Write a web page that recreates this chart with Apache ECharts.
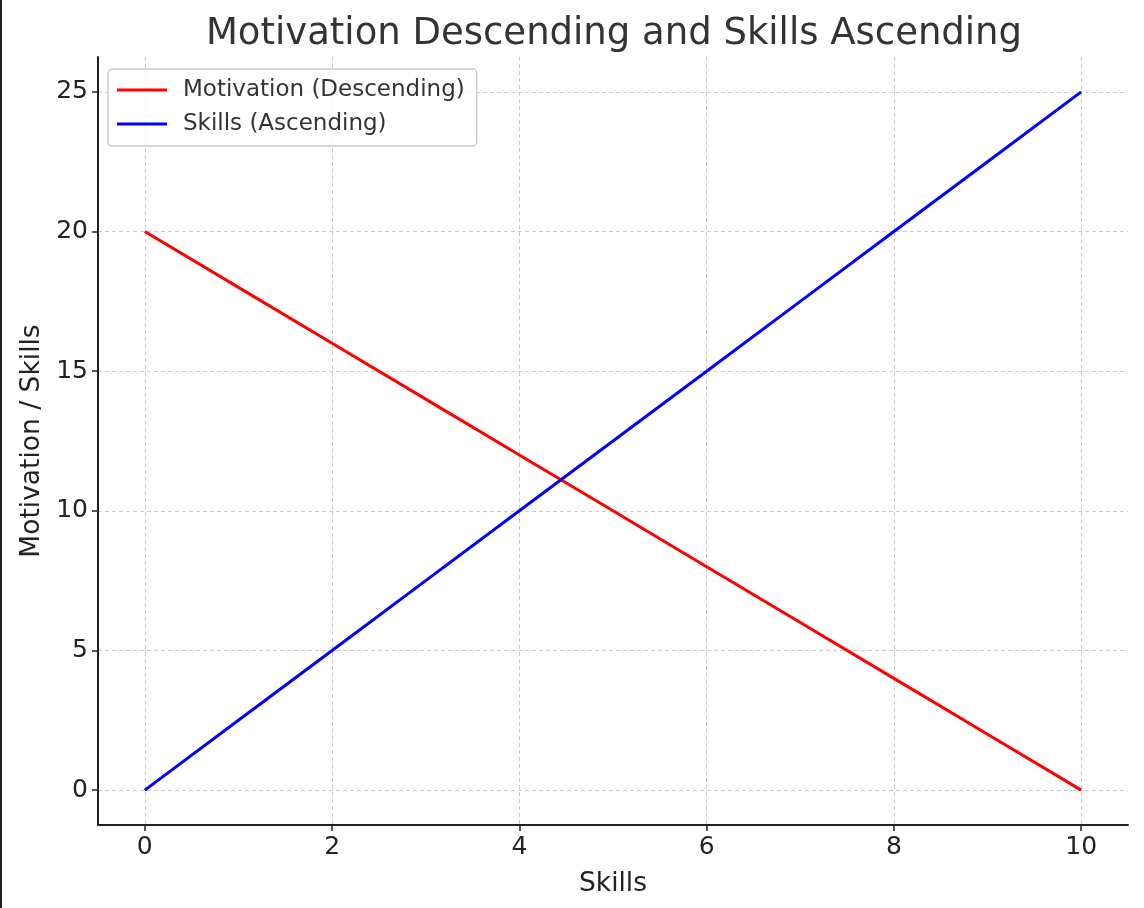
<!DOCTYPE html>
<html>
<head>
<meta charset="utf-8">
<script src="https://cdn.jsdelivr.net/npm/echarts@6/dist/echarts.min.js"></script>
<style>html,body{margin:0;padding:0;background:#fff;}#c{width:1144px;height:908px;}</style>
</head>
<body>
<div id="c"></div>
<script>
const xValues = [0, 1, 2, 3, 4, 5, 6, 7, 8, 9, 10];
const motivation = [20, 18, 16, 14, 12, 10, 8, 6, 4, 2, 0];
const skills = [0, 2.5, 5, 7.5, 10, 12.5, 15, 17.5, 20, 22.5, 25];
const xTicks = [0, 2, 4, 6, 8, 10];
const yTicks = [0, 5, 10, 15, 20, 25];

const FONT = 'DejaVu Sans';
const chart = echarts.init(document.getElementById('c'), null, {renderer: 'canvas'});
chart.setOption({
  animation: false,
  backgroundColor: '#fff',
  title: {
    text: 'Motivation Descending and Skills Ascending',
    left: 609, top: 11, textAlign: 'center',
    textStyle: {fontFamily: FONT, fontSize: 37, fontWeight: 'normal', color: '#333'}
  },
  legend: {
    orient: 'vertical', left: 108, top: 69,
    padding: [9, 12, 10, 9],
    itemGap: 10, itemWidth: 50, itemHeight: 3,
    icon: 'rect',
    borderColor: '#ccc', borderWidth: 1.5, borderRadius: 4,
    backgroundColor: 'rgba(255,255,255,0.8)',
    textStyle: {fontFamily: FONT, fontSize: 23, color: '#333', lineHeight: 24, padding: [0, 0, 0, 11]},
    data: ['Motivation (Descending)', 'Skills (Ascending)']
  },
  grid: {left: 98, right: 16, top: 57, bottom: 83, containLabel: false},
  xAxis: {
    type: 'value', min: -0.5, max: 10.5,
    name: 'Skills', nameLocation: 'middle', nameGap: 46,
    nameTextStyle: {fontFamily: FONT, fontSize: 26.5, color: '#222'},
    axisLine: {show: true, onZero: false, lineStyle: {color: '#222', width: 2}},
    axisTick: {show: true, length: 6, customValues: xTicks, lineStyle: {color: '#222', width: 1.5}},
    axisLabel: {customValues: xTicks, margin: 10, fontFamily: FONT, fontSize: 25, color: '#222'},
    splitLine: {show: true, lineStyle: {color: '#ccc', width: 1, type: [4, 3]}}
  },
  yAxis: {
    type: 'value', min: -1.25, max: 26.25,
    name: 'Motivation / Skills', nameLocation: 'middle', nameGap: 48,
    nameTextStyle: {fontFamily: FONT, fontSize: 26.5, color: '#222'},
    axisLine: {show: true, onZero: false, lineStyle: {color: '#222', width: 2}},
    axisTick: {show: true, length: 6, customValues: yTicks, lineStyle: {color: '#222', width: 1.5}},
    axisLabel: {customValues: yTicks, margin: 10, fontFamily: FONT, fontSize: 25, color: '#222'},
    splitLine: {show: true, lineStyle: {color: '#ccc', width: 1, type: [4, 3]}}
  },
  graphic: [{type: 'rect', left: 0, top: 0, shape: {width: 2, height: 908}, style: {fill: '#222'}}],
  series: [
    {name: 'Motivation (Descending)', type: 'line', data: xValues.map((x, i) => [x, motivation[i]]),
     showSymbol: false, color: '#ff0000', lineStyle: {width: 3, color: '#ff0000'}},
    {name: 'Skills (Ascending)', type: 'line', data: xValues.map((x, i) => [x, skills[i]]),
     showSymbol: false, color: '#0000ff', lineStyle: {width: 3, color: '#0000ff'}}
  ]
});
</script>
</body>
</html>
